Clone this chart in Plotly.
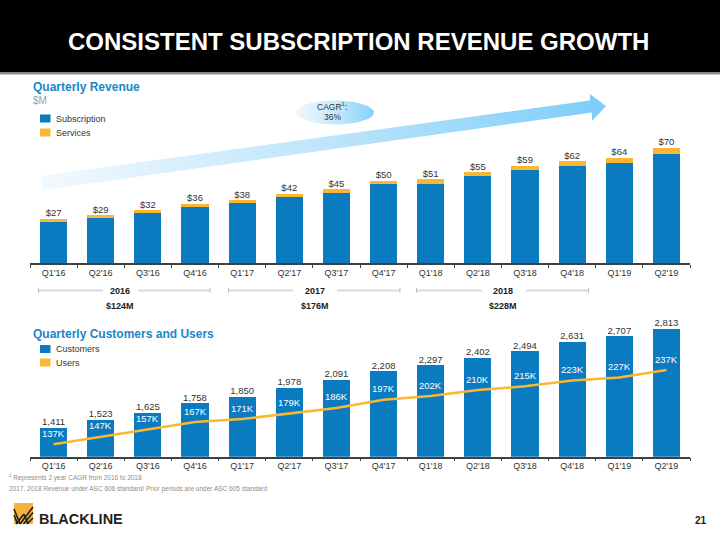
import plotly.graph_objects as go
import math

# ---------------- data ----------------
quarters = ["Q1'16", "Q2'16", "Q3'16", "Q4'16", "Q1'17", "Q2'17", "Q3'17",
            "Q4'17", "Q1'18", "Q2'18", "Q3'18", "Q4'18", "Q1'19", "Q2'19"]
subscription = [25.2, 27.4, 30.8, 34.2, 36.2, 40.2, 42.6, 48.2, 48.0, 52.6, 56.6, 59.0, 61.0, 66.4]
services = [1.8, 1.6, 1.2, 1.8, 1.8, 1.8, 2.4, 1.8, 3.0, 2.4, 2.4, 3.0, 3.0, 3.6]
revenue_labels = ["$27", "$29", "$32", "$36", "$38", "$42", "$45", "$50", "$51", "$55",
                  "$59", "$62", "$64", "$70"]
customers = [1411, 1523, 1625, 1758, 1850, 1978, 2091, 2208, 2297, 2402, 2494, 2631, 2707, 2813]
users_k = [137, 147, 157, 167, 171, 179, 186, 197, 202, 210, 215, 223, 227, 237]
years = ["2016", "2017", "2018"]
year_revenue = ["$124M", "$176M", "$228M"]

BLUE = "#0a7bc0"
ORANGE = "#fbb731"
TITLE_BLUE = "#1a86c8"
DARK = "#333333"
FONT = "Liberation Sans, Arial, sans-serif"

W, H = 720, 540


def px(x):
    return x / W


def py(y):
    return 1 - y / H


fig = go.Figure()

# ---------------- top chart: revenue ----------------
total = [s + v for s, v in zip(subscription, services)]
fig.add_trace(go.Bar(x=quarters, y=subscription, marker_color=BLUE, name="Subscription",
                     xaxis="x", yaxis="y", marker_line_width=0))
fig.add_trace(go.Bar(x=quarters, y=services, marker_color=ORANGE, name="Services",
                     xaxis="x", yaxis="y", marker_line_width=0))
fig.add_trace(go.Scatter(x=quarters, y=total, mode="text", text=revenue_labels,
                         textposition="top center", cliponaxis=False,
                         textfont=dict(size=9.5, color=DARK, family=FONT),
                         xaxis="x", yaxis="y", hoverinfo="skip"))

# ---------------- bottom chart: customers & users ----------------
fig.add_trace(go.Bar(x=quarters, y=customers, marker_color=BLUE, name="Customers",
                     xaxis="x2", yaxis="y2", marker_line_width=0, base=0))
fig.add_trace(go.Scatter(x=quarters, y=customers, mode="text",
                         text=[f"{c:,}" for c in customers],
                         textposition="top center", cliponaxis=False,
                         textfont=dict(size=9.5, color=DARK, family=FONT),
                         xaxis="x2", yaxis="y2", hoverinfo="skip"))
fig.add_trace(go.Scatter(x=quarters, y=users_k, mode="lines", name="Users",
                         line=dict(color=ORANGE, width=2.5),
                         xaxis="x2", yaxis="y3", cliponaxis=False))

annotations = []
for q, u in zip(quarters, users_k):
    annotations.append(dict(x=q, y=u, xref="x2", yref="y3", text=f"{u}K",
                            showarrow=False, yshift=11,
                            font=dict(size=9.5, color="white", family=FONT)))

# ---------------- decorative overlay (pixel axis) ----------------
arrow_x = [40, 590, 590, 606, 592, 592, 43, 40]
arrow_y = [176, 100.5, 94, 106, 121, 112.5, 190, 176]
fig.add_trace(go.Scatter(x=arrow_x, y=arrow_y, mode="lines", fill="toself",
                         line=dict(width=0, color="rgba(0,0,0,0)"),
                         fillgradient=dict(type="horizontal",
                                           colorscale=[[0, "#f2f9fe"], [0.5, "#bfe5fb"], [1, "#7ccdf9"]]),
                         xaxis="x4", yaxis="y4", hoverinfo="skip"))
ex = [335 + 39 * math.cos(t / 60 * 2 * math.pi) for t in range(61)]
ey = [112.5 + 12 * math.sin(t / 60 * 2 * math.pi) for t in range(61)]
fig.add_trace(go.Scatter(x=ex, y=ey, mode="lines", fill="toself",
                         line=dict(width=0, color="rgba(0,0,0,0)"),
                         fillgradient=dict(type="horizontal",
                                           colorscale=[[0, "#eef8fe"], [0.45, "#cdebfc"], [1, "#88d2fa"]]),
                         xaxis="x4", yaxis="y4", hoverinfo="skip"))

# ---------------- axes ----------------
xcommon = dict(type="category", range=[-0.5, 13.5], showline=True, linecolor="#404040",
               linewidth=1.5, ticks="outside", tickson="boundaries", ticklen=3,
               tickcolor="#404040", tickfont=dict(size=9, color=DARK, family=FONT),
               showgrid=False, zeroline=False, fixedrange=True)

layout = dict(
    width=W, height=H, margin=dict(l=0, r=0, t=0, b=0),
    paper_bgcolor="white", plot_bgcolor="rgba(0,0,0,0)",
    barmode="stack", bargap=0.427, showlegend=False,
    font=dict(family=FONT, color=DARK),
    xaxis=dict(domain=[px(30), px(690)], anchor="y", **xcommon),
    yaxis=dict(domain=[py(263), py(140)], range=[0, 74.7], visible=False, anchor="x"),
    xaxis2=dict(domain=[px(30), px(690)], anchor="y2", **xcommon),
    yaxis2=dict(domain=[py(456.7), py(320)], range=[1000, 2936], visible=False, anchor="x2"),
    yaxis3=dict(range=[120.3, 304.3], overlaying="y2", visible=False, anchor="x2"),
    xaxis4=dict(domain=[0, 1], range=[0, W], visible=False, anchor="y4", fixedrange=True),
    yaxis4=dict(domain=[0, 1], range=[H, 0], visible=False, anchor="x4", fixedrange=True),
)

# ---------------- shapes ----------------
shapes = [
    dict(type="rect", xref="paper", yref="paper", x0=0, x1=1, y0=py(72.5), y1=1,
         fillcolor="black", line_width=0, layer="below"),
    dict(type="line", xref="paper", yref="paper", x0=0, x1=1, y0=py(73.5), y1=py(73.5),
         line=dict(color="#8c8c8c", width=2)),
    # legends
    dict(type="rect", xref="paper", yref="paper", x0=px(40), x1=px(50.5), y0=py(122.5), y1=py(114.5),
         fillcolor=BLUE, line_width=0),
    dict(type="rect", xref="paper", yref="paper", x0=px(40), x1=px(50.5), y0=py(136.5), y1=py(128.5),
         fillcolor=ORANGE, line_width=0),
    dict(type="rect", xref="paper", yref="paper", x0=px(40), x1=px(50.5), y0=py(353), y1=py(345),
         fillcolor=BLUE, line_width=0),
    dict(type="rect", xref="paper", yref="paper", x0=px(40), x1=px(50.5), y0=py(366.5), y1=py(358.5),
         fillcolor=ORANGE, line_width=0),
    # logo icon
    dict(type="rect", xref="paper", yref="paper", x0=px(14), x1=px(33), y0=py(524), y1=py(503),
         fillcolor="#f6b23c", line_width=0),
]
logo_lines = [((14, 509), (20, 524)), ((14, 515), (17.5, 524)), ((20, 524), (33, 507)),
              ((23.5, 524), (33, 512.5)), ((27, 524), (33, 518)), ((16, 524), (24, 514)),
              ((24, 514), (28, 524))]
for (a, b) in logo_lines:
    shapes.append(dict(type="line", xref="paper", yref="paper", x0=px(a[0]), y0=py(a[1]),
                       x1=px(b[0]), y1=py(b[1]), line=dict(color="#1e1e1e", width=1.6)))

# year brackets
bracket_spans = [(38.5, 210, 103, 138), (228.5, 400, 293, 337), (416.5, 588.5, 482, 526)]
for (x0, x1, g0, g1) in bracket_spans:
    for (a, b) in [(x0, g0), (g1, x1)]:
        shapes.append(dict(type="line", xref="paper", yref="paper", x0=px(a), x1=px(b),
                           y0=py(290.5), y1=py(290.5), line=dict(color="#d9d9d9", width=2)))
    for xe in (x0, x1):
        shapes.append(dict(type="line", xref="paper", yref="paper", x0=px(xe), x1=px(xe),
                           y0=py(288), y1=py(293), line=dict(color="#bfbfbf", width=1)))

layout["shapes"] = shapes


def note(x, y, text, size, color=DARK, xanchor="center", bold=False):
    t = f"<b>{text}</b>" if bold else text
    annotations.append(dict(xref="paper", yref="paper", x=px(x), y=py(y), text=t,
                            showarrow=False, xanchor=xanchor, yanchor="middle",
                            font=dict(size=size, color=color, family=FONT)))


note(358, 42, "CONSISTENT SUBSCRIPTION REVENUE GROWTH", 24, "white", bold=True)
note(31, 87.5, "Quarterly Revenue", 12, TITLE_BLUE, "left", True)
note(31, 100.5, "$M", 10, "#a0a0a0", "left")
note(54, 118.5, "Subscription", 9, DARK, "left")
note(54, 132.5, "Services", 9, DARK, "left")
note(31, 334, "Quarterly Customers and Users", 12, TITLE_BLUE, "left", True)
note(54, 349, "Customers", 9, DARK, "left")
note(54, 362.5, "Users", 9, DARK, "left")
note(332, 106.5, "CAGR<sup>1</sup>:", 8.5, DARK)
note(332, 117.5, "36%", 8.5, DARK)
centers = [120.5, 315, 503.5]
for c, yl, rv in zip(centers, years, year_revenue):
    note(c, 290.5, yl, 9, "#222222", bold=True)
    note(c, 305.5, rv, 9, "#222222", bold=True)
note(7, 477, "<sup>1</sup> Represents 2 year CAGR from 2016 to 2018", 6.5, "#8c8c8c", "left")
note(7, 488.5, "2017, 2018 Revenue under ASC 606 standard/ Prior periods are under ASC 605 standard",
     6.5, "#8c8c8c", "left")
note(37, 519, "BLACKLINE", 14.5, "#231f20", "left", True)
note(701, 520, "21", 10, "#222222", bold=True)

layout["annotations"] = annotations
fig.update_layout(**layout)
fig.write_html("out.html")
